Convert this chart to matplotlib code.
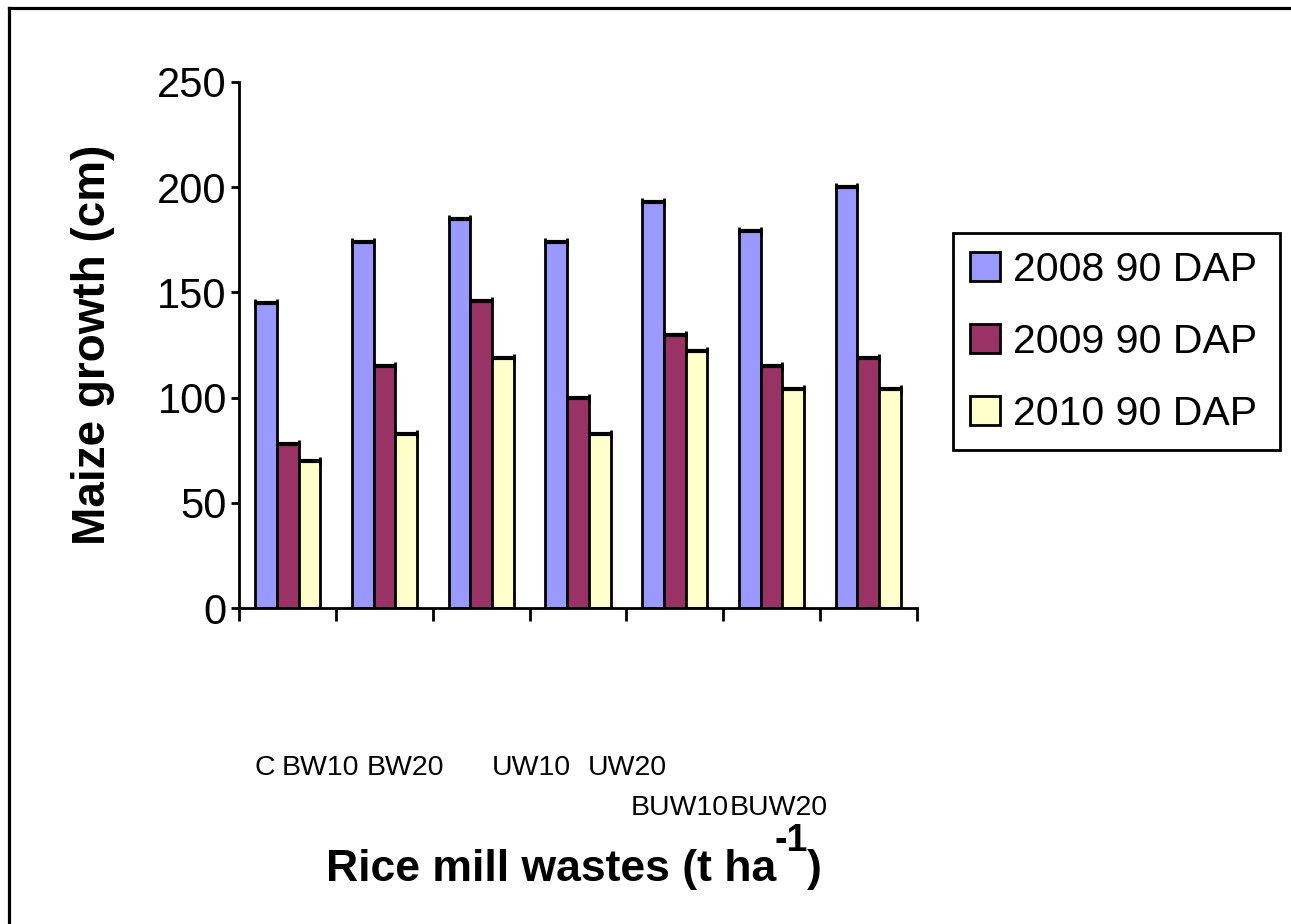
import numpy as np
import matplotlib
matplotlib.use("Agg")
import matplotlib.pyplot as plt
from matplotlib.lines import Line2D

plt.rcParams["font.family"] = ["Liberation Sans", "DejaVu Sans"]

# ---- data -------------------------------------------------------------
categories = ["C", "BW10", "BW20", "UW10", "UW20", "BUW10", "BUW20"]
series_names = ["2008 90 DAP", "2009 90 DAP", "2010 90 DAP"]
growth_2008 = [145, 174, 185, 174, 193, 179, 200]
growth_2009 = [78, 115, 146, 100, 130, 115, 119]
growth_2010 = [70, 83, 119, 83, 122, 104, 104]
y_ticks = [0, 50, 100, 150, 200, 250]

series_values = [growth_2008, growth_2009, growth_2010]
series_colors = ["#9999FF", "#993366", "#FFFFCC"]

# ---- figure / axes ----------------------------------------------------
W, H = 1291, 924
fig = plt.figure(figsize=(W / 100, H / 100), dpi=100)
fig.patch.set_facecolor("white")

ax_left, ax_right, ax_bottom, ax_top = 239.3, 916.7, 608.3, 81.8
ax = fig.add_axes([ax_left / W, 1 - ax_bottom / H,
                   (ax_right - ax_left) / W, (ax_bottom - ax_top) / H])

n = len(categories)
centers = np.arange(n) + 0.5
bar_w = 0.224
offsets = [-bar_w, 0.0, bar_w]

bar_handles = []
for vals, color, off, name in zip(series_values, series_colors, offsets, series_names):
    bars = ax.bar(centers + off, vals, width=bar_w, color=color,
                  edgecolor="black", linewidth=2.0, label=name, zorder=2)
    bar_handles.append(bars)
    # heavy cap line across the top of each bar
    for c, v in zip(centers + off, vals):
        ax.plot([c - bar_w / 2, c + bar_w / 2], [v, v], color="black",
                lw=3.0, marker="|", ms=6, mew=2, zorder=3,
                solid_capstyle="butt", clip_on=False)

ax.set_xlim(0, n)
ax.set_ylim(0, 250)
ax.set_yticks(y_ticks)
ax.set_xticks(np.arange(n + 1))
ax.set_xticklabels([])

for side in ("top", "right"):
    ax.spines[side].set_visible(False)
for side in ("left", "bottom"):
    ax.spines[side].set_linewidth(2.0)
    ax.spines[side].set_zorder(4)

ax.tick_params(axis="y", direction="out", length=6, width=2, labelsize=30, pad=3)
ax.tick_params(axis="x", direction="out", length=9.5, width=2)

ax.set_ylabel("Maize growth (cm)", fontsize=33, fontweight="bold")
ax.yaxis.set_label_coords((115 - ax_left) / (ax_right - ax_left), 0.5)

# ---- category labels (laid out as in the wrapped axis of the source) --
fig.canvas.draw()
renderer = fig.canvas.get_renderer()
label_fs = 20.5
first_row = {"C": 255.0, "BW10": 282.0, "BW20": 367.0, "UW10": 492.0, "UW20": 588.0}
for name, px in first_row.items():
    fig.text(px / W, 1 - 775 / H, name, fontsize=label_fs, ha="left", va="baseline")

x_cursor = 631.0
for name in categories[5:]:
    t = fig.text(x_cursor / W, 1 - 815 / H, name, fontsize=label_fs,
                 ha="left", va="baseline")
    x_cursor += t.get_window_extent(renderer).width

# ---- x axis title with superscript ------------------------------------
main = fig.text(326 / W, 1 - 881 / H, "Rice mill wastes (t ha", fontsize=32,
                fontweight="bold", ha="left", va="baseline")
main_right = main.get_window_extent(renderer).x1
sup = fig.text((main_right - 2) / W, 1 - 851 / H, "-1", fontsize=27,
               fontweight="bold", ha="left", va="baseline")
sup_right = sup.get_window_extent(renderer).x1
fig.text((sup_right - 1) / W, 1 - 881 / H, ")", fontsize=32,
         fontweight="bold", ha="left", va="baseline")

# ---- legend -----------------------------------------------------------
leg_x0, leg_x1, leg_top = 952.7, 1280.0, 233.3
leg = ax.legend(handles=bar_handles, labels=series_names,
                loc="upper left",
                bbox_to_anchor=(leg_x0 / W, 1 - leg_top / H, (leg_x1 - leg_x0) / W, 0),
                bbox_transform=fig.transFigure, mode="expand",
                borderaxespad=0, fontsize=29.5, frameon=True, fancybox=False,
                framealpha=1, edgecolor="black", labelspacing=0.83,
                borderpad=0.42, handlelength=0.73, handleheight=0.72,
                handletextpad=0.33)
leg.get_frame().set_linewidth(2.0)

# ---- outer frame (left and top edges) ---------------------------------
fig.add_artist(Line2D([8.5 / W, 8.5 / W], [0, 1 - 7.5 / H],
                      transform=fig.transFigure, color="black", lw=2.3))
fig.add_artist(Line2D([8.5 / W, 1], [1 - 7.5 / H, 1 - 7.5 / H],
                      transform=fig.transFigure, color="black", lw=2.3))

fig.savefig("out.png", dpi=100)
